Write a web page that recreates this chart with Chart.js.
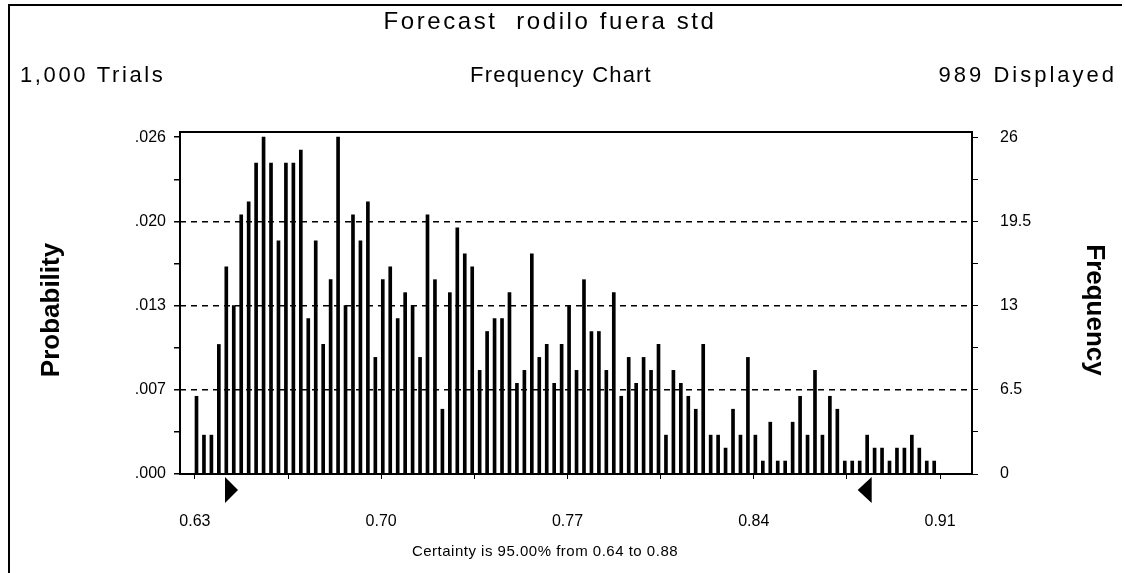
<!DOCTYPE html>
<html>
<head>
<meta charset="utf-8">
<script src="https://cdn.jsdelivr.net/npm/chart.js@4.4.1/dist/chart.umd.min.js"></script>
<style>
  html, body { margin: 0; background: #fff; }
  #wrap { width: 1125px; height: 573px; position: relative; }
</style>
</head>
<body>
<div id="wrap"><canvas id="chart" width="1125" height="573"></canvas></div>
<script>
// histogram bins (0.0028 wide), counts (sum = 989)
const binStart = 0.6306;
const binWidth = 0.0028;
const frequency = [
  6, 3, 3, 10, 16, 13, 20, 21, 24, 26,
  24, 18, 24, 24, 25, 12, 18, 10, 15, 26,
  13, 20, 18, 21, 9, 15, 16, 12, 14, 13,
  9, 20, 15, 5, 14, 19, 17, 16, 8, 11,
  12, 12, 14, 7, 8, 17, 9, 10, 7, 10,
  13, 8, 15, 11, 11, 8, 14, 6, 9, 7,
  9, 8, 10, 3, 8, 7, 6, 5, 10, 3,
  3, 2, 5, 3, 9, 3, 1, 4, 1, 1,
  4, 6, 3, 8, 3, 6, 5, 1, 1, 1,
  3, 2, 2, 1, 2, 2, 3, 2, 1, 1,
];

const freqTicks = [0, 3.25, 6.5, 9.75, 13, 16.25, 19.5, 22.75, 26];
const freqLabels = { 0: "0", 6.5: "6.5", 13: "13", 19.5: "19.5", 26: "26" };
const probLabels = { 0: ".000", 6.5: ".007", 13: ".013", 19.5: ".020", 26: ".026" };
const gridValues = [6.5, 13, 19.5];

const xTicks = [0.63, 0.665, 0.70, 0.735, 0.77, 0.805, 0.84, 0.875, 0.91];
const xLabels = { 0.63: "0.63", 0.7: "0.70", 0.77: "0.77", 0.84: "0.84", 0.91: "0.91" };

const certLo = 0.6413;
const certHi = 0.8843;

const title = "Forecast  rodilo fuera std";
const trialsText = "1,000 Trials";
const chartName = "Frequency Chart";
const displayedText = "989 Displayed";
const certaintyText = "Certainty is 95.00% from 0.64 to 0.88";

const FONT = '"Liberation Sans", Arial, sans-serif';

const points = frequency.map((f, i) => ({ x: binStart + i * binWidth, y: f }));

const keyOf = (v) => String(Math.round(v * 1000) / 1000);

const decorations = {
  id: "decorations",
  afterDatasetsDraw(chart) {
    const { ctx, chartArea: a, scales } = chart;
    ctx.save();
    // plot frame
    ctx.strokeStyle = "#000";
    ctx.lineWidth = 2;
    ctx.strokeRect(a.left, a.top, a.right - a.left, a.bottom - a.top);

    // certainty triangles
    const xl = scales.x.getPixelForValue(certLo);
    const xh = scales.x.getPixelForValue(certHi);
    ctx.fillStyle = "#000";
    ctx.beginPath();
    ctx.moveTo(xl, a.bottom + 3);
    ctx.lineTo(xl, a.bottom + 29);
    ctx.lineTo(xl + 13, a.bottom + 16);
    ctx.closePath();
    ctx.fill();
    ctx.beginPath();
    ctx.moveTo(xh, a.bottom + 3);
    ctx.lineTo(xh, a.bottom + 29);
    ctx.lineTo(xh - 14, a.bottom + 16);
    ctx.closePath();
    ctx.fill();
    ctx.restore();
  },
  afterDraw(chart) {
    const { ctx } = chart;
    ctx.save();
    ctx.fillStyle = "#000";
    ctx.strokeStyle = "#000";
    ctx.lineWidth = 2;
    // outer frame (top + left)
    ctx.beginPath();
    ctx.moveTo(9, 573);
    ctx.lineTo(9, 5);
    ctx.lineTo(1122, 5);
    ctx.stroke();

    ctx.textBaseline = "alphabetic";
    ctx.font = "24px " + FONT;
    ctx.letterSpacing = "2.6px";
    ctx.textAlign = "center";
    ctx.fillText(title, 550, 29);
    ctx.font = "22px " + FONT;
    ctx.letterSpacing = "1.2px";
    ctx.fillText(chartName, 561, 82);
    ctx.letterSpacing = "2.6px";
    ctx.textAlign = "left";
    ctx.fillText(trialsText, 20, 82);
    ctx.letterSpacing = "3px";
    ctx.textAlign = "right";
    ctx.fillText(displayedText, 1117, 82);

    ctx.font = "15px " + FONT;
    ctx.letterSpacing = "0.5px";
    ctx.textAlign = "center";
    ctx.fillText(certaintyText, 545, 556);

    ctx.letterSpacing = "0px";
    ctx.font = "bold 26px " + FONT;
    ctx.save();
    ctx.translate(59, 310);
    ctx.rotate(-Math.PI / 2);
    ctx.textAlign = "center";
    ctx.fillText("Probability", 0, 0);
    ctx.restore();
    ctx.save();
    ctx.translate(1087, 310);
    ctx.rotate(Math.PI / 2);
    ctx.textAlign = "center";
    ctx.fillText("Frequency", 0, 0);
    ctx.restore();
    ctx.restore();
  },
};

const yCommon = {
  type: "linear",
  min: 0,
  max: 26.4,
  afterBuildTicks: (s) => { s.ticks = freqTicks.map((v) => ({ value: v })); },
  border: { display: false, dash: [6, 5] },
};

new Chart(document.getElementById("chart"), {
  type: "bar",
  data: {
    datasets: [{
      data: points,
      backgroundColor: "#000",
      borderWidth: 0,
      barThickness: 3,
    }],
  },
  options: {
    responsive: false,
    animation: false,
    devicePixelRatio: 1,
    layout: { padding: { top: 132, left: 0, right: 0, bottom: 0 } },
    plugins: { legend: { display: false }, tooltip: { enabled: false } },
    scales: {
      x: {
        type: "linear",
        offset: false,
        min: 0.6244,
        max: 0.9220,
        afterBuildTicks: (s) => { s.ticks = xTicks.map((v) => ({ value: v })); },
        afterFit: (s) => { s.height = 99; },
        ticks: {
          autoSkip: false,
          maxRotation: 0,
          padding: 33,
          color: "#000",
          font: { family: FONT, size: 16 },
          callback: (v) => xLabels[keyOf(v)] || "",
        },
        grid: { offset: false, drawOnChartArea: false, tickLength: 5, tickColor: "#000", tickWidth: 1 },
        border: { display: false },
      },
      y: {
        ...yCommon,
        position: "left",
        afterFit: (s) => { s.width = 180; },
        ticks: {
          padding: 8,
          color: "#000",
          font: { family: FONT, size: 16 },
          callback: (v) => probLabels[keyOf(v)] || "",
        },
        grid: {
          tickLength: 6,
          tickColor: "#000",
          tickBorderDash: [],
          lineWidth: 1.5,
          color: (c) => (gridValues.includes(c.tick.value) ? "#000" : "rgba(0,0,0,0)"),
        },
      },
      y2: {
        ...yCommon,
        position: "right",
        afterFit: (s) => { s.width = 153; },
        ticks: {
          padding: 22,
          color: "#000",
          font: { family: FONT, size: 16 },
          callback: (v) => freqLabels[keyOf(v)] || "",
        },
        grid: { drawOnChartArea: false, tickLength: 6, tickColor: "#000", tickBorderDash: [] },
      },
    },
  },
  plugins: [decorations],
});
</script>
</body>
</html>
